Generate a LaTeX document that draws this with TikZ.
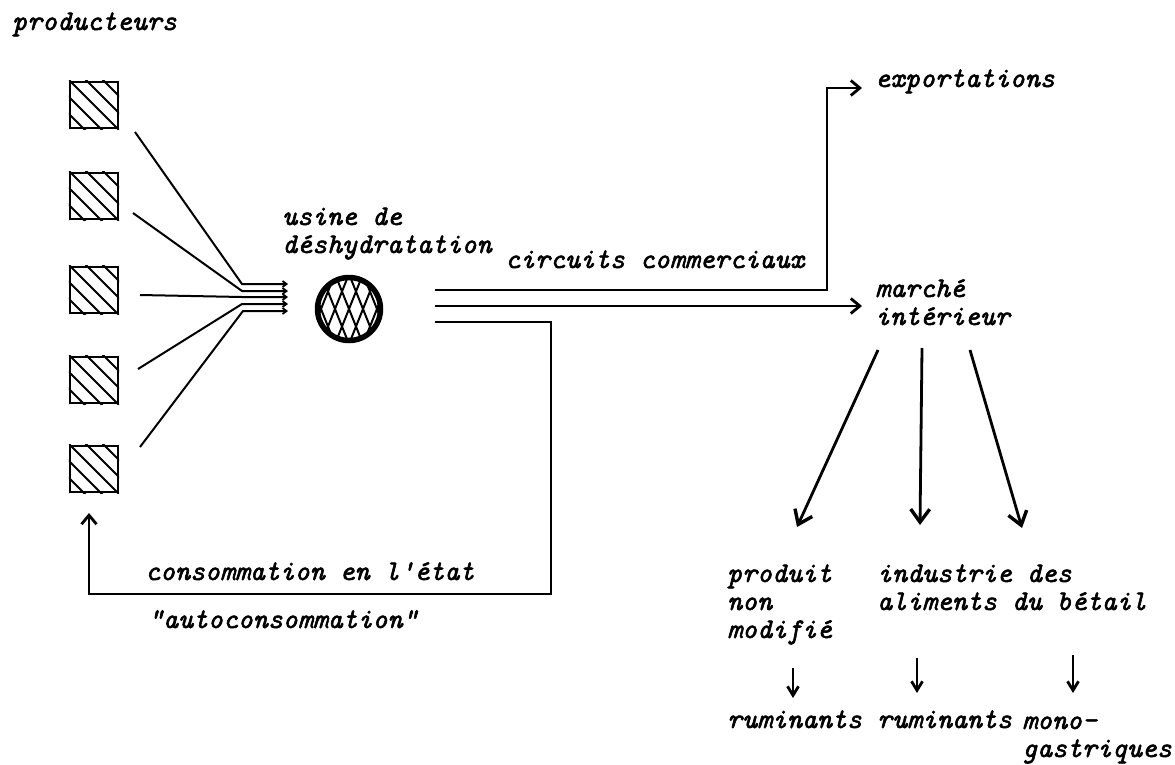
\documentclass[tikz,border=0pt]{standalone}
\usepackage{fontspec}
\setmonofont{Latin Modern Mono}[ItalicFeatures={FakeBold=2}]
\usetikzlibrary{arrows.meta,calc}
\begin{document}
\begin{tikzpicture}[x=1pt,y=-1pt,
  lbl/.style={font=\ttfamily\itshape\fontsize{28.5}{28}\selectfont, inner sep=0pt, anchor=base west, align=left},
  flow/.style={line width=2.8pt},
  arr/.style={flow,-{Straight Barb[length=9pt,width=15pt,line width=2.8pt]}},
  bigarr/.style={line width=2.8pt,-{Straight Barb[length=13pt,width=19pt,line width=3.4pt]}},
  smallarr/.style={line width=2.8pt,-{Straight Barb[length=9pt,width=11pt,line width=2.8pt]}},
  fanarr/.style={line width=2pt,-{Straight Barb[length=4pt,width=6pt,line width=1.8pt]}},
  field/.style={draw, line width=2.4pt, minimum width=48pt, minimum height=46pt, inner sep=0pt},
  hatch/.style={line width=2pt},
]
\useasboundingbox (0,0) rectangle (1175,764);

% producers: five hatched fields
\node[field] (b1) at (94,105) {};
\node[field] (b2) at (94,196) {};
\node[field] (b3) at (94,290) {};
\node[field] (b4) at (94,380) {};
\node[field] (b5) at (94,469) {};
\foreach \b in {b1,b2,b3,b4,b5}{
  \begin{scope}
    \clip (\b.south west) rectangle (\b.north east);
    \foreach \k in {-3,...,3}
      \draw[hatch] ($(\b.center)+(\k*17-30,-30)$) -- ++(60,60);
  \end{scope}
}

% dehydration plant
\node[circle, draw, line width=5.5pt, minimum size=63pt, inner sep=0pt] (usine) at (349,309) {};
\begin{scope}
  \clip (usine.center) circle (30pt);
  \foreach \k in {-5,...,5}{
    \draw[hatch] ($(usine.center)+(\k*14-16,-40)$) -- ++(32,80);
    \draw[hatch] ($(usine.center)+(\k*14+16,-40)$) -- ++(-32,80);
  }
\end{scope}

% labels (anchored on the baseline of their last line)
\node[lbl] (prod) at (12,30) {producteurs};
\node[lbl] (usinelbl) at (282,253) {usine de\\déshydratation};
\node[lbl] (circ) at (505,268) {circuits commerciaux};
\node[lbl] (export) at (875,87) {exportations};
\node[lbl] (marche) at (875,325) {marché\\intérieur};
\node[lbl] (pnm) at (727,638) {produit\\non\\modifié};
\node[lbl] (iab) at (877,610) {industrie des\\aliments du bétail};
\node[lbl] (rum1) at (727,728) {ruminants};
\node[lbl] (rum2) at (877,728) {ruminants};
\node[lbl] (mono) at (1022,757) {mono-\\gastriques};
\node[lbl] (conso) at (145,580) {consommation en l'état};
\node[lbl] (auto) at (148,628) {"autoconsommation"};

% deliveries from the fields to the plant
\coordinate (s1) at (135,132);  \coordinate (k1) at (242,284); \coordinate (t1) at (288,284);
\coordinate (s2) at (133,213);  \coordinate (k2) at (242,291); \coordinate (t2) at (288,291);
\coordinate (s3) at (140,295);  \coordinate (k3) at (242,297); \coordinate (t3) at (288,297);
\coordinate (s4) at (138,369);  \coordinate (k4) at (242,304); \coordinate (t4) at (288,304);
\coordinate (s5) at (140,447);  \coordinate (k5) at (243,311); \coordinate (t5) at (288,311);
\foreach \i in {1,...,5}
  \draw[fanarr] (s\i) -- (k\i) -- (t\i);

% outputs of the plant
\coordinate (o1) at (435,290);
\coordinate (o2) at (435,306);
\coordinate (o3) at (435,322);
\coordinate (ex) at (862,88);
\coordinate (mi) at (862,306);
\coordinate (back) at (89,513);
\draw[arr] (o1) -| (827,88) -- (ex);
\draw[arr] (o2) -- (mi);
\draw[arr] (o3) -| (551,594) -| (back);

% home market split
\coordinate (m1) at (878,350); \coordinate (d1) at (797,527);
\coordinate (m2) at (922,348); \coordinate (d2) at (920,525);
\coordinate (m3) at (970,350); \coordinate (d3) at (1022,528);
\draw[bigarr] (m1) -- (d1);
\draw[bigarr] (m2) -- (d2);
\draw[bigarr] (m3) -- (d3);

% final users
\coordinate (r1a) at (793,668); \coordinate (r1b) at (793,698);
\coordinate (r2a) at (917,658); \coordinate (r2b) at (917,693);
\coordinate (r3a) at (1073,655); \coordinate (r3b) at (1073,693);
\draw[smallarr] (r1a) -- (r1b);
\draw[smallarr] (r2a) -- (r2b);
\draw[smallarr] (r3a) -- (r3b);
\end{tikzpicture}
\end{document}
